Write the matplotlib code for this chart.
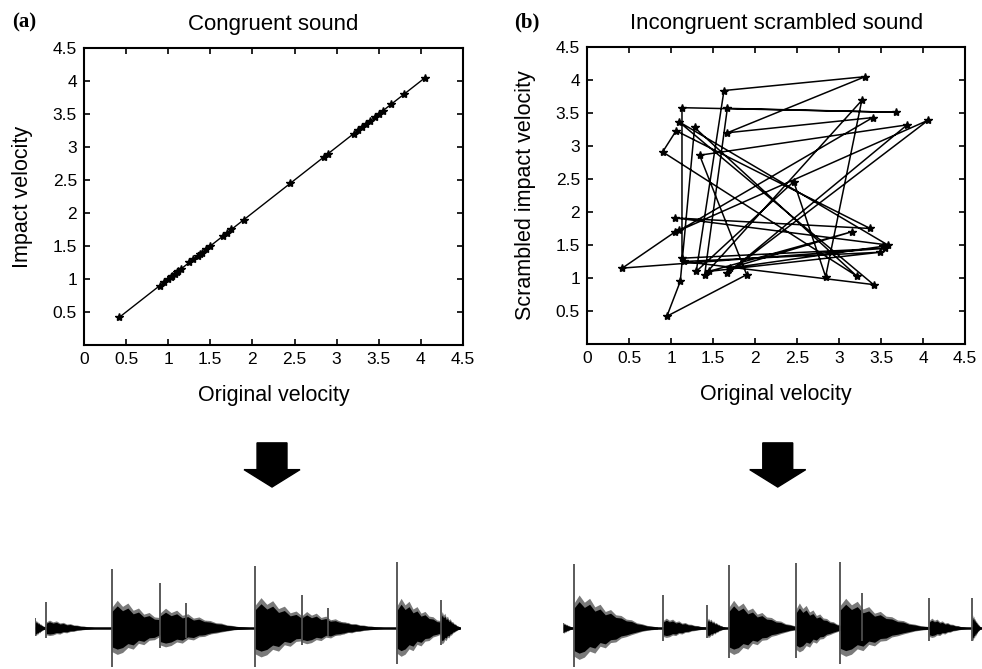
import numpy as np
import matplotlib
matplotlib.use("Agg")
import matplotlib.pyplot as plt
from matplotlib.patches import FancyArrow

plt.rcParams['font.family'] = ['Liberation Sans', 'DejaVu Sans']

# panel (a): impact velocity vs original velocity (same values)
orig_vel = [0.42, 0.90, 0.95, 1.00, 1.03, 1.05, 1.08, 1.10, 1.12, 1.15, 1.25, 1.30,
            1.35, 1.38, 1.40, 1.45, 1.50, 1.65, 1.70, 1.75, 1.90, 2.45, 2.85, 2.90,
            3.20, 3.25, 3.30, 3.35, 3.40, 3.45, 3.50, 3.55, 3.65, 3.80, 4.05]
impact_vel = list(orig_vel)

# panel (b): original velocity vs scrambled impact velocity, in playback order
scr_x = [1.05, 0.42, 3.55, 1.13, 1.13, 3.68, 1.67, 1.40, 3.27, 2.84, 2.46, 1.30,
         1.63, 3.31, 1.67, 3.40, 1.10, 4.06, 1.67, 3.81, 1.34, 1.90, 0.95, 1.11,
         1.28, 3.21, 0.90, 1.06, 3.37, 1.05, 3.58, 1.09, 3.41, 1.15, 3.49, 1.45,
         3.15, 1.70, 3.52]
scr_y = [1.70, 1.15, 1.45, 1.30, 3.58, 3.51, 3.57, 1.05, 3.69, 1.02, 2.46, 1.10,
         3.84, 4.05, 3.20, 3.43, 1.72, 3.39, 1.07, 3.32, 2.86, 1.05, 0.42, 0.95,
         3.28, 1.03, 2.91, 3.23, 1.75, 1.91, 1.50, 3.37, 0.90, 1.25, 1.39, 1.10,
         1.70, 1.15, 1.48]

ticks = [0, 0.5, 1, 1.5, 2, 2.5, 3, 3.5, 4, 4.5]
tick_labels = ['0', '0.5', '1', '1.5', '2', '2.5', '3', '3.5', '4', '4.5']

# waveform impacts: onset (fraction of clip), spike height, body amplitude,
# downward spike, decay length (fraction of clip)
wave_a_onset = [0.000, 0.026, 0.181, 0.294, 0.355, 0.518, 0.628, 0.689, 0.852, 0.955]
wave_a_spike = [0.15, 0.39, 0.90, 0.68, 0.38, 0.94, 0.50, 0.30, 1.00, 0.42]
wave_a_body = [0.12, 0.12, 0.42, 0.30, 0.15, 0.46, 0.25, 0.12, 0.45, 0.25]
wave_a_down = [0.12, 0.15, 0.59, 0.30, 0.15, 0.59, 0.25, 0.12, 0.55, 0.25]
wave_a_decay = [0.03, 0.13, 0.20, 0.21, 0.15, 0.22, 0.18, 0.15, 0.15, 0.05]

wave_b_onset = [0.000, 0.026, 0.239, 0.344, 0.396, 0.556, 0.661, 0.714, 0.874, 0.976]
wave_b_spike = [0.08, 0.97, 0.50, 0.35, 0.95, 0.98, 1.00, 0.53, 0.45, 0.45]
wave_b_body = [0.08, 0.50, 0.15, 0.15, 0.42, 0.38, 0.45, 0.20, 0.15, 0.20]
wave_b_down = [0.08, 0.59, 0.20, 0.15, 0.45, 0.45, 0.55, 0.20, 0.20, 0.20]
wave_b_decay = [0.03, 0.20, 0.12, 0.05, 0.18, 0.13, 0.22, 0.10, 0.10, 0.024]

# shape of one decaying impact (relative amplitude along the decay)
env_upper = [0.75, 1.0, 0.78, 0.9, 0.64, 0.72, 0.50, 0.56, 0.40, 0.38, 0.27, 0.25,
             0.16, 0.13, 0.08, 0.06, 0.03]
env_lower = [0.85, 0.95, 0.88, 0.70, 0.76, 0.55, 0.60, 0.44, 0.42, 0.30, 0.26, 0.20,
             0.15, 0.10, 0.07, 0.05, 0.03]

fig = plt.figure(figsize=(9.82, 6.69), dpi=100)


def style_axes(ax, ylabel):
    ax.set_xlim(0, 4.5)
    ax.set_ylim(0, 4.5)
    ax.set_xticks(ticks)
    ax.set_xticklabels(tick_labels)
    ax.set_yticks(ticks[1:])
    ax.set_yticklabels(tick_labels[1:])
    ax.tick_params(direction='in', top=True, right=True, length=4, width=1.2,
                   labelsize=12.5, pad=5)
    for s in ax.spines.values():
        s.set_linewidth(1.5)
    ax.set_xlabel('Original velocity', fontsize=15.5, labelpad=13)
    ax.set_ylabel(ylabel, fontsize=15.5, labelpad=14)


ax1 = fig.add_axes([0.0855, 0.4843, 0.386, 0.444])
ax1.plot(orig_vel, impact_vel, '-*', color='black', lw=1, ms=6)
style_axes(ax1, 'Impact velocity')
ax1.set_title('Congruent sound', fontsize=16, pad=13)
fig.text(0.012, 0.967, '(a)', fontsize=15, fontweight='bold',
         family='Liberation Serif', va='center')

ax2 = fig.add_axes([0.5978, 0.4858, 0.385, 0.444])
ax2.plot(scr_x, scr_y, '-*', color='black', lw=1.1, ms=6)
style_axes(ax2, 'Scrambled impact velocity')
ax2.set_title('Incongruent scrambled sound', fontsize=16, pad=13)
fig.text(0.524, 0.967, '(b)', fontsize=15, fontweight='bold',
         family='Liberation Serif', va='center')

# arrows
for cx in [0.277, 0.792]:
    fig.patches.append(FancyArrow(cx, 0.338, 0, -0.066, width=0.0305,
                                  head_width=0.057, head_length=0.026,
                                  length_includes_head=True, color='black',
                                  transform=fig.transFigure))


def draw_wave(ax, onset, spike, body, down, decay):
    ax.axhline(0, color='black', lw=1.8)
    up = np.array(env_upper)
    lo = np.array(env_lower)
    # grey fringes first, dark cores on top
    for t0, b, dl in zip(onset, body, decay):
        t = t0 + dl * np.linspace(0, 1, len(up))
        ax.fill_between(t, -b * lo, b * up, color='0.3', lw=0, alpha=0.75)
    for t0, sp, b, d, dl in zip(onset, spike, body, down, decay):
        t = t0 + dl * np.linspace(0, 1, len(up))
        ax.fill_between(t, -0.8 * b * lo, 0.8 * b * up, color='black', lw=0)
        ax.vlines(t0, -d, sp, color='0.3', lw=1.3)
    ax.set_xlim(0, 1)
    ax.set_ylim(-0.62, 1.06)
    ax.axis('off')


axw1 = fig.add_axes([35 / 982, 0, 425 / 982, 111 / 669])
draw_wave(axw1, wave_a_onset, wave_a_spike, wave_a_body, wave_a_down, wave_a_decay)
axw2 = fig.add_axes([563 / 982, 0, 419 / 982, 111 / 669])
draw_wave(axw2, wave_b_onset, wave_b_spike, wave_b_body, wave_b_down, wave_b_decay)

fig.savefig('out.png', dpi=100)
